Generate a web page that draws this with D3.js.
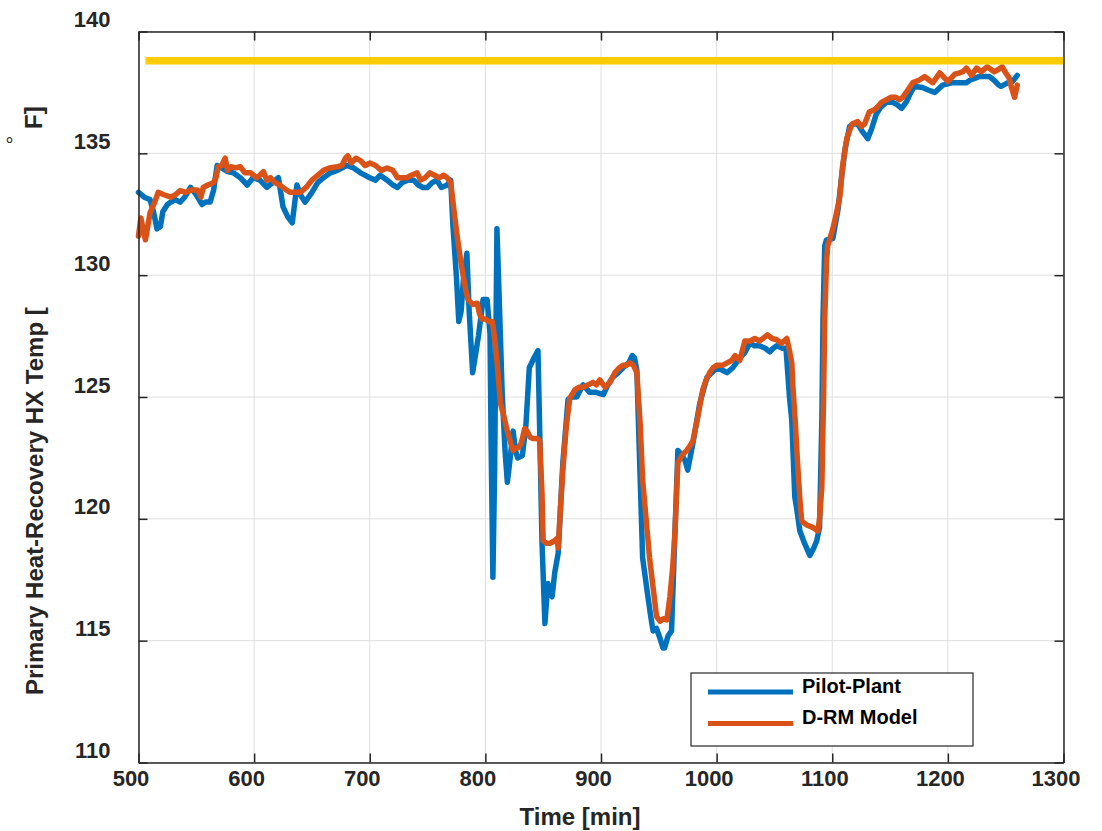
<!DOCTYPE html>
<html>
<head>
<meta charset="utf-8">
<script src="https://cdn.jsdelivr.net/npm/d3@7"></script>
<style>
  html, body { margin: 0; padding: 0; background: #fff; }
  svg { display: block; font-family: "Liberation Sans", Arial, Helvetica, sans-serif; }
</style>
</head>
<body>
<svg id="chart" width="1102" height="831"></svg>
<script>
// ---------------- data ----------------
const pilotTime = [500,505,510,513,516,519,521,525,528,532,536,540,545,550,555,558,562,565,568,572,577,582,588,594,599,605,611,616,621,625,629,633,637,640,644,650,655,660,666,672,680,686,692,700,705,709,715,720,724,728,733,738,742,746,750,754,758,762,767,770,772,775,777,779,781,784,786,789,791,794,798,801.5,804,805,806.5,808,810,812,814.5,817,819,821,824,826,828,832,835,838,842,845.5,847,849,851.5,854,856,857.7,860,863,867,871.5,875,879,884.5,890,895,902,906,910,915,919,924,927,929,931,933,936,940,943,945,948,951,953.6,955,958,961,964,966.5,970,972.6,975,979.5,985.5,991.6,996,1000,1005,1009,1014,1020,1024,1028.7,1033,1037,1042,1046,1049,1052,1057,1060,1063,1065,1067.6,1069,1072,1076,1080.6,1084,1086.6,1089,1091,1092,1093.5,1095,1100.5,1105,1108,1111,1115,1118,1122,1126,1130.7,1134,1138,1142,1147,1152,1156,1160,1164,1168,1171,1178,1183,1188.6,1195.5,1200,1204,1210,1216,1219,1227,1236,1240,1244,1246,1252,1256,1260];
const pilotTemp = [133.4,133.2,133.1,132.6,131.9,132.0,132.6,132.9,133.0,133.1,133.0,133.2,133.6,133.3,132.9,133.0,133.0,133.5,134.5,134.4,134.25,134.2,134.0,133.7,134.0,133.9,133.6,133.8,134.0,132.8,132.4,132.15,133.7,133.3,133.0,133.4,133.8,134.0,134.2,134.3,134.5,134.4,134.2,134.0,133.9,134.1,133.9,133.7,133.6,133.8,133.9,133.9,133.7,133.6,133.6,133.8,133.9,133.6,133.7,133.9,132.0,129.9,128.1,128.5,129.8,130.9,128.5,126.0,126.6,127.5,129.0,129.0,127.6,123.0,117.6,122.0,131.9,129.0,125.2,122.8,121.5,122.3,123.6,122.8,122.5,122.6,123.8,126.2,126.6,126.9,123.6,119.0,115.7,117.35,117.0,116.8,117.8,118.6,122.3,124.9,125.0,125.0,125.5,125.2,125.2,125.1,125.5,125.8,126.0,126.2,126.4,126.7,126.6,126.1,123.0,118.4,117.0,116.0,115.4,115.5,115.1,114.7,114.7,115.2,115.4,119.5,122.8,122.6,122.4,122.0,123.1,124.75,125.8,126.0,126.2,126.1,126.0,126.2,126.6,126.8,127.2,127.1,127.1,127.0,126.85,127.0,127.1,127.0,127.0,125.0,124.05,120.9,120.5,119.5,119.0,118.5,118.8,119.1,119.65,124.05,128.2,131.2,131.45,131.5,132.7,134.0,135.15,136.1,136.2,136.2,135.9,135.6,136.0,136.6,136.9,137.1,137.1,137.0,136.85,137.1,137.5,137.75,137.7,137.6,137.5,137.8,137.85,137.9,137.9,137.9,138.0,138.15,138.15,138.0,137.8,137.75,137.9,137.95,138.2];

const modelTime = [500,502,504,506,508,510,514,517,522,528,532,536,541,546,551,554,556,560,565,567,569,572,575,577,580,584,588,592,597,602,605,608,611,614,618,622,625,628,631,636,640,645,650,655,660,665,672,676,679,681,684,688,692,696,700,705,710,715,720,724,728,732,736,741,744,748,752,756,760,764,767,770,773,775.6,778,781,783,785,789,793,795,797,800,803,806,808,810,813,816,819,822,824,826,828,831,834,836,838.7,841,845,847,849,850,853,856,860,862,863,865,867,870,873,877.5,881,884.5,889,893,896,899,903.5,907.8,912,916,919,922,925,928,931,934,936,939,942,945,948,951,954,957,959.6,962,964,966.5,970,974,977,979.5,983.8,988,991,994,997,1000,1005,1009,1013,1016,1020,1024.4,1029,1033,1037,1040,1044,1048,1052,1056,1060.7,1063,1065,1066,1068,1070,1072,1073.6,1078,1083,1087.5,1089,1091,1092.5,1093.5,1095,1096,1098,1100.5,1103,1106.5,1109,1112.5,1117,1122,1125,1128,1132,1136.7,1139,1142.8,1147,1151,1155,1158,1161,1164,1169.6,1175,1180,1184,1187,1190,1193,1197,1200,1203,1206,1210,1213,1216,1220.5,1224.8,1229,1234,1237,1240,1244,1247,1250,1253,1255,1257.7,1260];
const modelTemp = [131.6,132.35,131.9,131.45,132.0,132.56,133.0,133.4,133.3,133.2,133.3,133.47,133.4,133.5,133.5,133.2,133.6,133.7,133.8,134.0,134.45,134.5,134.8,134.3,134.45,134.4,134.45,134.2,134.2,134.0,134.1,134.25,133.9,134.0,133.8,133.7,133.6,133.5,133.4,133.4,133.4,133.6,133.9,134.1,134.3,134.4,134.45,134.5,134.8,134.9,134.6,134.8,134.7,134.5,134.6,134.5,134.3,134.4,134.3,134.0,134.0,134.0,134.1,134.2,133.9,134.0,134.2,134.1,134.0,134.1,134.0,133.8,132.6,131.6,130.8,129.9,129.4,129.0,128.8,128.85,128.4,128.2,128.2,128.1,128.1,127.4,126.5,124.75,124.2,123.6,123.1,122.8,122.9,122.9,123.1,123.7,123.6,123.35,123.3,123.3,123.2,121.0,119.1,119.0,119.0,119.1,119.2,118.8,120.5,122.0,123.8,124.95,125.3,125.4,125.4,125.5,125.6,125.5,125.7,125.4,125.6,126.0,126.2,126.3,126.3,126.4,126.3,126.0,123.8,121.6,120.0,118.4,117.2,116.0,115.8,115.9,115.85,116.8,118.0,119.5,122.3,122.6,122.8,123.0,123.2,124.2,125.3,125.7,126.0,126.2,126.3,126.3,126.4,126.5,126.7,126.5,127.3,127.3,127.4,127.3,127.4,127.55,127.4,127.35,127.2,127.4,126.9,126.4,125.4,124.0,122.3,120.8,119.9,119.75,119.65,119.5,120.0,121.3,125.0,128.2,130.5,131.2,131.5,131.9,132.4,133.2,134.5,135.6,136.2,136.3,136.1,136.2,136.7,136.8,136.9,137.1,137.2,137.3,137.3,137.2,137.3,137.5,137.9,138.0,138.15,138.0,137.9,138.1,138.3,138.1,137.95,138.1,138.25,138.3,138.35,138.5,138.2,138.5,138.35,138.55,138.45,138.35,138.45,138.55,138.3,138.1,137.7,137.3,137.8];

const limitTime = [506, 1300];
const limitTemp = [138.8, 138.8];

const xTicks = [500,600,700,800,900,1000,1100,1200,1300];
const yTicks = [110,115,120,125,130,135,140];
const seriesNames = ["Pilot-Plant", "D-RM Model"];
const xLabel = "Time [min]";
const yLabelMain = "Primary Heat-Recovery HX Temp [";

// ---------------- layout ----------------
const svg = d3.select("#chart");
const L = 138.5, R = 1063.5, T = 31.5, B = 762.5;
const x = d3.scaleLinear().domain([500, 1300]).range([L, R]);
const y = d3.scaleLinear().domain([110, 140]).range([B, T]);
const axisColor = "#262626";
const blue = "#0072BD", red = "#D95319", gold = "#FFCC00";

// grid
const grid = svg.append("g");
grid.selectAll(".gx").data(xTicks).enter().append("line")
  .attr("x1", d => x(d)).attr("x2", d => x(d)).attr("y1", T).attr("y2", B)
  .attr("stroke", "#dfdfdf").attr("stroke-width", 1);
grid.selectAll(".gy").data(yTicks).enter().append("line")
  .attr("y1", d => y(d)).attr("y2", d => y(d)).attr("x1", L).attr("x2", R)
  .attr("stroke", "#dfdfdf").attr("stroke-width", 1);

// lines
const mk = (tt, vv) => tt.map((t, i) => [t, vv[i]]);
const line = d3.line().x(d => x(d[0])).y(d => y(d[1]));
svg.append("path").datum(mk(pilotTime, pilotTemp)).attr("d", line)
  .attr("fill", "none").attr("stroke", blue).attr("stroke-width", 5.5)
  .attr("stroke-linejoin", "round").attr("stroke-linecap", "round");
svg.append("path").datum(mk(modelTime, modelTemp)).attr("d", line)
  .attr("fill", "none").attr("stroke", red).attr("stroke-width", 5.5)
  .attr("stroke-linejoin", "round").attr("stroke-linecap", "round");
svg.append("path").datum(mk(limitTime, limitTemp)).attr("d", line)
  .attr("fill", "none").attr("stroke", gold).attr("stroke-width", 7.5);

// axes (box with inward ticks on all four sides)
const tickLen = 9;
const axB = svg.append("g").attr("transform", `translate(0,${B})`)
  .call(d3.axisBottom(x).tickValues(xTicks).tickSizeInner(-tickLen).tickSizeOuter(0).tickFormat(d3.format("d")));
const axT = svg.append("g").attr("transform", `translate(0,${T})`)
  .call(d3.axisTop(x).tickValues(xTicks).tickSizeInner(-tickLen).tickSizeOuter(0).tickFormat(""));
const axL = svg.append("g").attr("transform", `translate(${L},0)`)
  .call(d3.axisLeft(y).tickValues(yTicks).tickSizeInner(-tickLen).tickSizeOuter(0).tickFormat(d3.format("d")));
const axR = svg.append("g").attr("transform", `translate(${R},0)`)
  .call(d3.axisRight(y).tickValues(yTicks).tickSizeInner(-tickLen).tickSizeOuter(0).tickFormat(""));
[axB, axT, axL, axR].forEach(a => {
  a.select(".domain").attr("stroke", axisColor).attr("stroke-width", 1.5);
  a.selectAll(".tick line").attr("stroke", axisColor).attr("stroke-width", 1.5);
});
axB.selectAll(".tick text")
  .attr("fill", axisColor).attr("font-size", 22).attr("font-weight", "bold")
  .attr("font-family", "'Liberation Sans', Arial, sans-serif")
  .attr("y", 8).attr("dy", "0.71em").attr("dx", -8);
axL.selectAll(".tick text")
  .attr("fill", axisColor).attr("font-size", 22).attr("font-weight", "bold")
  .attr("font-family", "'Liberation Sans', Arial, sans-serif")
  .attr("x", -28).attr("dy", "0.32em").attr("transform", "translate(0,-12)");

// axis labels
svg.append("text").attr("x", 580).attr("y", 825)
  .attr("text-anchor", "middle").attr("font-size", 24).attr("font-weight", "bold")
  .attr("fill", axisColor).text(xLabel);
svg.append("text").attr("transform", "translate(43,695) rotate(-90)")
  .attr("text-anchor", "start").attr("font-size", 24).attr("font-weight", "bold")
  .attr("fill", axisColor).text(yLabelMain);
svg.append("text").attr("transform", "translate(42,129) rotate(-90)")
  .attr("text-anchor", "start").attr("font-size", 24).attr("font-weight", "bold")
  .attr("fill", axisColor).text("F]");
svg.append("text").attr("x", 9.5).attr("y", 152)
  .attr("text-anchor", "middle").attr("font-size", 20)
  .attr("fill", axisColor).text("\u00B0");

// legend
const lg = svg.append("g");
lg.append("rect").attr("x", 691).attr("y", 673).attr("width", 282).attr("height", 73)
  .attr("fill", "#fff").attr("stroke", axisColor).attr("stroke-width", 1.2);
const legColors = [blue, red];
seriesNames.forEach((name, i) => {
  const yy = 692 + i * 31.5;
  lg.append("line").attr("x1", 708).attr("x2", 793).attr("y1", yy).attr("y2", yy)
    .attr("stroke", legColors[i]).attr("stroke-width", 5);
  lg.append("text").attr("x", 802).attr("y", yy + 0.5)
    .attr("font-size", 20).attr("font-weight", "bold").attr("fill", "#000").text(name);
});
</script>
</body>
</html>
